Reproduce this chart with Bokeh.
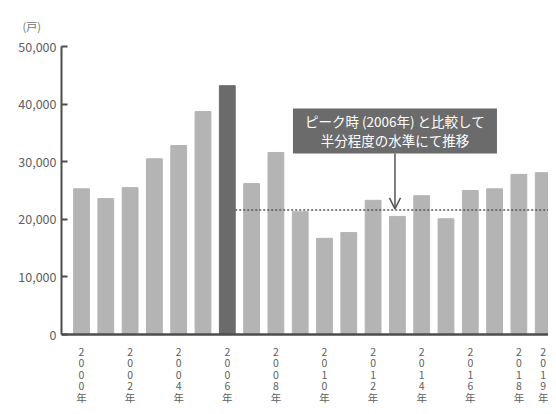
from bokeh.plotting import figure
from bokeh.models import (ColumnDataSource, FixedTicker, NumeralTickFormatter, Range1d,
                          Span, Arrow, OpenHead)
from bokeh.core.properties import value
from bokeh.embed import file_html
from bokeh.resources import INLINE

years = list(range(2000, 2020))
units = [25300, 23600, 25500, 30500, 32800, 38700, 43200, 26200, 31600, 21300,
         16700, 17700, 23300, 20500, 24100, 20100, 25000, 25300, 27800, 28100]
tick_years = [2000, 2002, 2004, 2006, 2008, 2010, 2012, 2014, 2016, 2018, 2019]
y_ticks = [0, 10000, 20000, 30000, 40000, 50000]
peak_year = 2006
note_lines = ["ピーク時 (2006年) と比較して", "半分程度の水準にて推移"]
unit_text = "(戸)"

FONT = "Noto Sans CJK JP"
LIGHT = "#b4b4b4"
DARK = "#6b6b6b"
AXIS = "#4d4d4d"
LABEL = "#606060"
BAR_W = 0.65

colors = [DARK if y == peak_year else LIGHT for y in years]
src = ColumnDataSource(dict(x=years, top=units, color=colors))

W, H = 548, 406
BL, BT = 61, 46
step = 24.3
x0 = 2000 - (81 - BL) / step
x1 = x0 + (W - BL) / step
p = figure(width=W, height=H, output_backend="svg", toolbar_location=None,
           x_range=Range1d(x0, x1), y_range=Range1d(-12500, 50000),
           x_axis_location=None,
           min_border_left=BL, min_border_right=0, min_border_top=BT, min_border_bottom=0)
p.outline_line_color = None
p.grid.visible = False
p.background_fill_color = "white"

p.title.text = unit_text
p.title.align = "left"
p.title.offset = 22 - BL
p.title.standoff = 26
p.title.text_font = FONT
p.title.text_font_size = "11px"
p.title.text_font_style = "normal"
p.title.text_color = "#777777"

p.vbar(x="x", top="top", width=BAR_W, color="color", source=src)

# baseline (x axis line)
p.add_layout(Span(location=0, dimension="width", line_color=AXIS, line_width=2.5))

# vertical (stacked) year labels
lx, ly, lt, lo = [], [], [], []
for y in tick_years:
    for i, ch in enumerate(str(y) + "年"):
        lx.append(y)
        ly.append(0)
        lt.append(ch)
        lo.append(17 + 11.6 * i)
p.text(x="x", y="y", text="t", y_offset="o",
       source=ColumnDataSource(dict(x=lx, y=ly, t=lt, o=lo)),
       text_align="center", text_baseline="middle", text_color=LABEL,
       text_font=value(FONT), text_font_size="10.5px")

# half-of-peak dotted reference line
peak = units[years.index(peak_year)]
half = peak / 2
p.segment(x0=[peak_year + BAR_W / 2], x1=[x1], y0=[half], y1=[half],
          line_color="#555555", line_width=1.5, line_dash="2 2")

# annotation box and arrow
note_x = 2012.9
box_y = 35330
p.rect(x=[note_x], y=[box_y], width=204, height=45, width_units="screen",
       height_units="screen", fill_color=DARK, line_color=None)
p.text(x=[note_x, note_x], y=[box_y, box_y], text=note_lines, y_offset=[-9.5, 9.5],
       text_align="center", text_baseline="middle", text_color="white",
       text_font=value(FONT), text_font_size="13.5px")
p.add_layout(Arrow(end=OpenHead(size=11, line_color="#555555", line_width=1.5),
                   x_start=note_x, y_start=31420, x_end=note_x, y_end=half + 200,
                   line_color="#555555", line_width=1.5))

# y axis
ya = p.yaxis[0]
ya.bounds = (0, 50000)
ya.ticker = FixedTicker(ticks=y_ticks)
ya.formatter = NumeralTickFormatter(format="0,0")
ya.axis_line_color = AXIS
ya.axis_line_width = 2
ya.major_tick_line_color = AXIS
ya.major_tick_line_width = 2
ya.major_tick_in = 6
ya.major_tick_out = 0
ya.minor_tick_line_color = None
ya.major_label_text_font = FONT
ya.major_label_text_font_size = "12.5px"
ya.major_label_text_color = LABEL
ya.major_label_standoff = 5

open("out.html", "w").write(file_html(p, INLINE))
